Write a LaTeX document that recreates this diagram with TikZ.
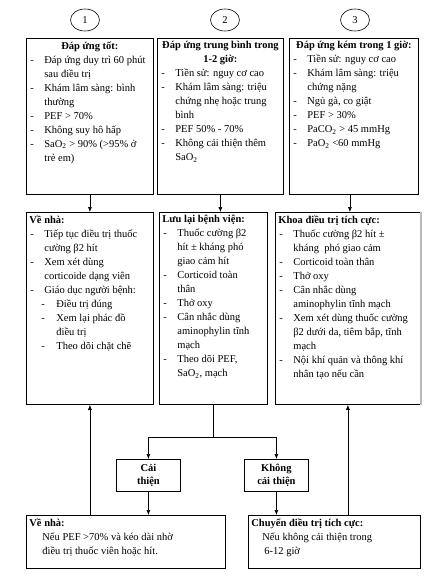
\documentclass[tikz,border=0pt]{standalone}
\usepackage{fontspec}
\setmainfont{Liberation Serif}
\usetikzlibrary{positioning,arrows.meta,shapes.geometric,calc}
\tikzset{
    box/.style={rectangle, draw=black, line width=0.8pt, anchor=north west, inner xsep=3pt, inner ysep=3pt, font=\fontsize{10.5}{14}\selectfont},
    choice/.style={rectangle, draw=black, line width=0.8pt, anchor=north west, minimum width=64pt, minimum height=32pt, inner sep=0pt, align=center, font=\fontsize{10.5}{13}\selectfont\bfseries},
    num/.style={ellipse, draw=black, line width=0.6pt, minimum width=29pt, minimum height=22pt, inner sep=0pt, font=\fontsize{10.5}{12}\selectfont},
    line/.style={-{Latex[length=5pt,width=4pt]}, line width=0.6pt},
    plain/.style={line width=0.6pt},
}
\newcommand{\boxbody}[3]{\parbox[c][#2][t]{#1}{\raggedright #3}}
\newcommand{\boxhead}[1]{{\centering\textbf{#1}\par}}
\newcommand{\dashitem}[1]{\par\hangindent=15pt\hangafter=1\noindent\makebox[15pt][l]{\hspace{1pt}-}#1\par}
\newcommand{\subdash}[1]{\par\hangindent=27pt\hangafter=1\noindent\hspace*{12pt}\makebox[15pt][l]{-}#1\par}

\begin{document}
\begin{tikzpicture}[x=1pt,y=-1pt]
        \useasboundingbox (0,0) rectangle (447,580);

        % numbered heads
        \node[num] (c1) at (85,20) {1};
        \node[num] (c2) at (225,20) {2};
        \node[num] (c3) at (355,20) {3};

        % response after first treatment
        \node[box] (good) at (26,38) {\boxbody{121pt}{150pt}{%
            \boxhead{Đáp ứng tốt:}
            \dashitem{Đáp ứng duy trì 60 phút\newline sau điều trị}
            \dashitem{Khám lâm sàng: bình\newline thường}
            \dashitem{PEF > 70\%}
            \dashitem{Không suy hô hấp}
            \dashitem{SaO\textsubscript{2} > 90\% (>95\% ở\newline trẻ em)}}};
        \node[box] (fair) at (157,38) {\boxbody{120pt}{150pt}{%
            \boxhead{Đáp ứng trung bình trong\\ 1-2 giờ:}
            \dashitem{Tiền sử: nguy cơ cao}
            \dashitem{Khám lâm sàng: triệu\newline chứng nhẹ hoặc trung\newline bình}
            \dashitem{PEF 50\% - 70\%}
            \dashitem{Không cải thiện thêm\newline SaO\textsubscript{2}}}};
        \node[box] (poor) at (289,38) {\boxbody{123pt}{150pt}{%
            \boxhead{Đáp ứng kém trong 1 giờ:}
            \dashitem{Tiền sử: nguy cơ cao}
            \dashitem{Khám lâm sàng: triệu\newline chứng nặng}
            \dashitem{Ngủ gà, co giật}
            \dashitem{PEF > 30\%}
            \dashitem{PaCO\textsubscript{2} > 45 mmHg}
            \dashitem{PaO\textsubscript{2} <60 mmHg}}};

        % what to do
        \node[box] (home) at (26,212) {\boxbody{121pt}{186pt}{%
            \textbf{Về nhà:}
            \dashitem{Tiếp tục điều trị thuốc\newline cường β2 hít}
            \dashitem{Xem xét dùng\newline corticoide dạng viên}
            \dashitem{Giáo dục người bệnh:}
            \subdash{Điều trị đúng}
            \subdash{Xem lại phác đồ\newline điều trị}
            \subdash{Theo dõi chặt chẽ}}};
        \node[box] (ward) at (159,212) {\boxbody{102pt}{186pt}{%
            \textbf{Lưu lại bệnh viện:}
            \dashitem{Thuốc cường β2\newline hít ± kháng phó\newline giao cảm hít}
            \dashitem{Corticoid toàn\newline thân}
            \dashitem{Thở oxy}
            \dashitem{Cân nhắc dùng\newline aminophylin tĩnh\newline mạch}
            \dashitem{Theo dõi PEF,\newline SaO\textsubscript{2}, mạch}}};
        \node[box] (icu) at (275,212) {\boxbody{139pt}{186pt}{%
            \textbf{Khoa điều trị tích cực:}
            \dashitem{Thuốc cường β2 hít ±\newline kháng~ phó giao cảm}
            \dashitem{Corticoid toàn thân}
            \dashitem{Thở oxy}
            \dashitem{Cân nhắc dùng\newline aminophylin tĩnh mạch}
            \dashitem{Xem xét dùng thuốc cường\newline β2 dưới da, tiêm bắp, tĩnh\newline mạch}
            \dashitem{Nội khí quản và thông khí\newline nhân tạo nếu cần}}};
        \draw[gray!55, line width=1.6pt] (icu.north east) -- (icu.south east);

        % outcome in hospital
        \node[choice] (better) at (116,459) {Cải\\ thiện};
        \node[choice] (worse) at (244,459) {Không\\ cải thiện};

        \node[box] (home2) at (26,515) {\boxbody{193pt}{47pt}{%
            \textbf{Về nhà:}\par
            \hspace*{13pt}Nếu PEF >70\% và kéo dài nhờ\par
            \hspace*{13pt}điều trị thuốc viên hoặc hít.}};
        \node[box] (move) at (248,515) {\boxbody{166pt}{47pt}{%
            \textbf{Chuyển điều trị tích cực:}\par
            \hspace*{11pt}Nếu không cải thiện trong\par
            \hspace*{13pt}6-12 giờ}};

        % connectors
        \draw[line] (good.south) -- (good.south |- home.north);
        \draw[line] (fair.south) -- (fair.south |- ward.north);
        \draw[line] ([xshift=-4pt]poor.south) -- ([xshift=-4pt]poor.south |- icu.north);

        \draw[plain] (ward.south) -- ++(0,32) coordinate (split);
        \draw[line] (split) -| (better.north);
        \draw[line] (split) -| (worse.north);

        \draw[line] (better.south) -- (better.south |- home2.north);
        \draw[line] (worse.south) -- (worse.south |- move.north);

        \draw[line] (home2.north -| home.south) -- (home.south);
        \draw[line] (move.north -| icu.south) -- (icu.south);

    \end{tikzpicture}
\end{document}
